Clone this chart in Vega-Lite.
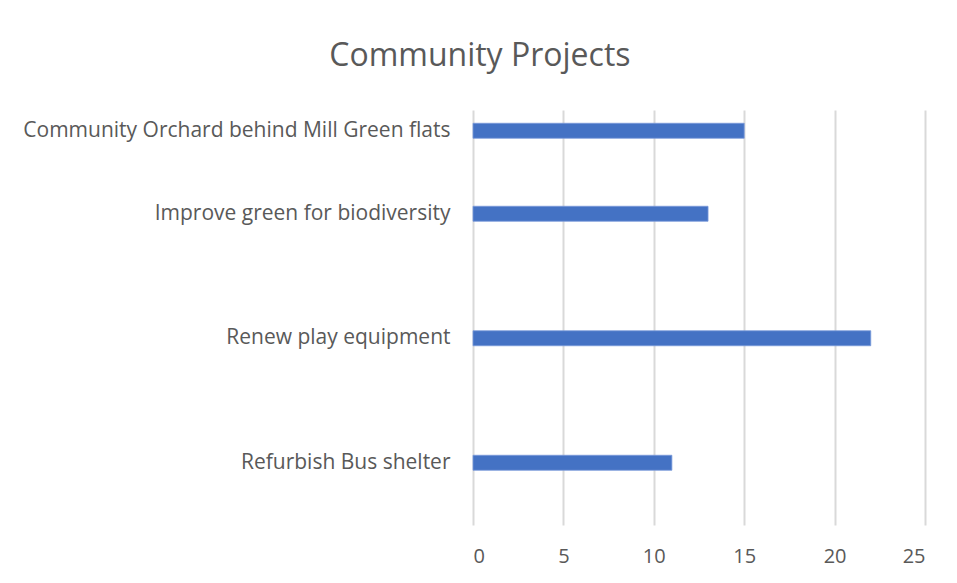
{
  "$schema": "https://vega.github.io/schema/vega-lite/v6.json",
  "width": 452,
  "height": 415,
  "autosize": {"type": "none"},
  "padding": {"left": 473, "top": 110, "right": 32, "bottom": 58},
  "background": "white",
  "title": {
    "text": "Community Projects",
    "font": "Open Sans",
    "fontSize": 32,
    "fontWeight": "normal",
    "color": "#595959",
    "anchor": "middle",
    "frame": "bounds",
    "dx": 6,
    "offset": 37
  },
  "data": {
    "values": [
      {"project": "Community Orchard behind Mill Green flats", "count": 15},
      {"project": "Improve green for biodiversity", "count": 13},
      {"project": "Renew play equipment", "count": 22},
      {"project": "Refurbish Bus shelter", "count": 11}
    ]
  },
  "mark": {"type": "bar", "size": 15, "color": "#4472C4", "stroke": "#7A9BDB", "strokeWidth": 0.8},
  "encoding": {
    "y": {
      "field": "project",
      "type": "nominal",
      "sort": null,
      "scale": {
        "domain": [
          "Community Orchard behind Mill Green flats",
          "_gap1",
          "Improve green for biodiversity",
          "_gap2",
          "_gap3",
          "Renew play equipment",
          "_gap4",
          "_gap5",
          "Refurbish Bus shelter",
          "_gap6"
        ],
        "paddingInner": 0,
        "paddingOuter": 0
      },
      "axis": {
        "title": null,
        "labelExpr": "indexof(datum.value, '_gap') == 0 ? '' : datum.value",
        "labelFont": "Open Sans",
        "labelFontSize": 21,
        "labelColor": "#595959",
        "labelPadding": 23,
        "ticks": false,
        "domain": false,
        "grid": false,
        "labelLimit": 500
      }
    },
    "x": {
      "field": "count",
      "type": "quantitative",
      "scale": {"domain": [0, 25], "nice": false},
      "axis": {
        "title": null,
        "values": [0, 5, 10, 15, 20, 25],
        "labelFont": "Open Sans",
        "labelFontSize": 20,
        "labelColor": "#595959",
        "labelPadding": 21,
        "ticks": false,
        "domain": false,
        "grid": true,
        "gridColor": "#D9D9D9",
        "gridWidth": 2
      }
    }
  },
  "config": {
    "view": {"stroke": null}
  }
}
